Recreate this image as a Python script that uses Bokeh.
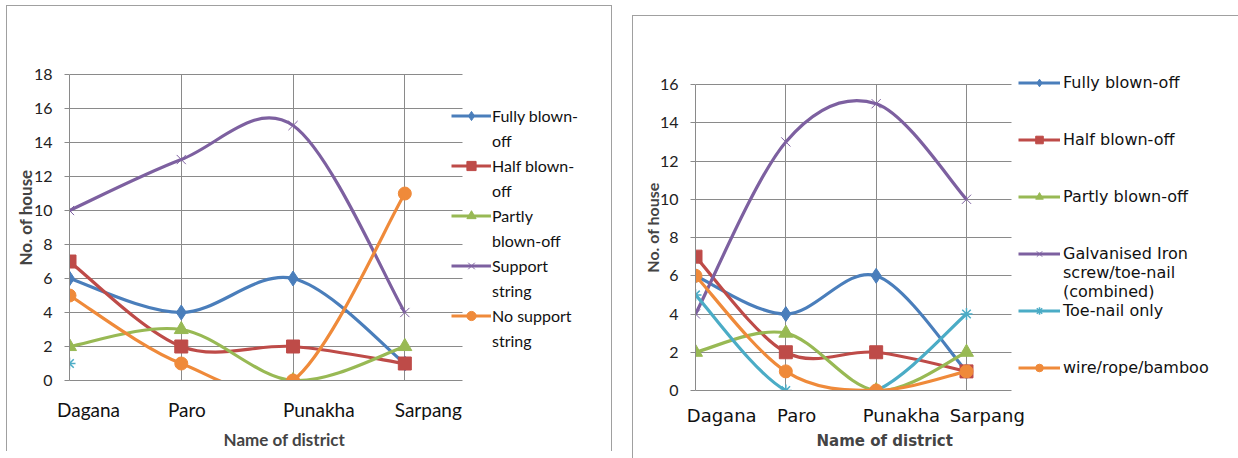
from bokeh.plotting import figure
from bokeh.layouts import row
from bokeh.models import (Legend, LegendItem, FixedTicker, SingleIntervalTicker,
                          Title, Range1d)
from bokeh.embed import file_html
from bokeh.resources import INLINE

# ---------------- data ----------------
districts = ["Dagana", "Paro", "Punakha", "Sarpang"]

left_fully = [6, 4, 6, 1]
left_half = [7, 2, 2, 1]
left_partly = [2, 3, 0, 2]
left_support = [10, 13, 15, 4]
left_nosupport = [5, 1, 0, 11]
left_toenail = [1, None, None, None]
left_names = ["Fully blown-\noff", "Half blown-\noff", "Partly\nblown-off",
              "Support\nstring", "No support\nstring"]

right_fully = [6, 4, 6, 1]
right_half = [7, 2, 2, 1]
right_partly = [2, 3, 0, 2]
right_galv = [4, 13, 15, 10]
right_toenail = [5, 0, 0, 4]
right_wire = [6, 1, 0, 1]
right_names = ["Fully blown-off", "Half blown-off", "Partly blown-off",
               "Galvanised Iron\nscrew/toe-nail\n(combined)", "Toe-nail only",
               "wire/rope/bamboo"]

x_title = "Name of district"
y_title = "No. of house"

# ---------------- styling ----------------
BLUE, RED, GREEN = "#4a7ebb", "#be4b48", "#98b954"
PURPLE, CYAN, ORANGE = "#7d60a0", "#4bacc6", "#ef8a3a"
GRID = "#8a8a8a"
STYLES = [  # colour, marker, size, marker line width
    (BLUE, "diamond", 15, 1),
    (RED, "square", 13, 1),
    (GREEN, "triangle", 14, 1),
    (PURPLE, "x", 13, 1),
    (CYAN, "asterisk", 12, 1.5),
    (ORANGE, "circle", 13, 1),
]

BORDER_LEFT, BORDER_TOP, BORDER_BOTTOM, EXTRA_TOP, GRID_H = 62, 48, 70, 20, 305


def smooth_segments(ys):
    """Bezier control points (Excel-like smoothing) from the data points."""
    pts = [(float(i), float(y)) for i, y in enumerate(ys) if y is not None]
    seg = dict(x0=[], y0=[], x1=[], y1=[], cx0=[], cy0=[], cx1=[], cy1=[])
    n = len(pts)
    for i in range(n - 1):
        p0 = pts[max(i - 1, 0)]
        p1 = pts[i]
        p2 = pts[i + 1]
        p3 = pts[min(i + 2, n - 1)]
        seg["x0"].append(p1[0]); seg["y0"].append(p1[1])
        seg["x1"].append(p2[0]); seg["y1"].append(p2[1])
        seg["cx0"].append(p1[0] + (p2[0] - p0[0]) / 6)
        seg["cy0"].append(p1[1] + (p2[1] - p0[1]) / 6)
        seg["cx1"].append(p2[0] - (p3[0] - p1[0]) / 6)
        seg["cy1"].append(p2[1] - (p3[1] - p1[1]) / 6)
    return seg


def make_chart(series, names, styles, ymax, cfg):
    grid_end = cfg["grid_end"]
    x_end = grid_end * cfg["frame_w"] / cfg["grid_px"]
    frame_h = GRID_H + EXTRA_TOP
    y_end = ymax * frame_h / GRID_H
    p = figure(frame_width=cfg["frame_w"], frame_height=frame_h,
               x_range=Range1d(0, x_end), y_range=Range1d(0, y_end),
               output_backend="svg", toolbar_location=None,
               min_border_left=BORDER_LEFT, min_border_right=0,
               min_border_top=BORDER_TOP, min_border_bottom=BORDER_BOTTOM,
               outline_line_color=None, background_fill_color="white",
               border_fill_color="white",
               styles={"border-top": "1px solid #a0a0a0",
                       "border-left": "1px solid #a0a0a0",
                       "border-right": "1px solid #a0a0a0"})
    cats = list(range(len(districts)))
    # grids (limited to the plotting area, legend sits to the right)
    p.xgrid.ticker = FixedTicker(ticks=cats)
    p.ygrid.ticker = SingleIntervalTicker(interval=2)
    p.ygrid.bounds = (0, ymax)
    for g in (p.xgrid, p.ygrid):
        g.grid_line_color = GRID
        g.grid_line_width = 1
    p.ygrid.cross_bounds = (0, grid_end)
    p.xgrid.cross_bounds = (0, ymax)
    # y axis
    ya = p.yaxis[0]
    ya.bounds = (0, ymax)
    ya.ticker = SingleIntervalTicker(interval=2)
    ya.minor_tick_line_color = None
    ya.major_tick_out = 5
    ya.major_tick_in = 0
    ya.major_tick_line_color = GRID
    ya.axis_line_color = GRID
    ya.major_label_text_font = "Lato"
    ya.major_label_text_font_size = "16px"
    ya.major_label_text_color = "#222222"
    ya.major_label_standoff = 12
    ya.axis_label = y_title
    ya.axis_label_text_font = "Lato"
    ya.axis_label_text_font_style = "bold"
    ya.axis_label_text_font_size = cfg["ytitle_size"]
    ya.axis_label_standoff = -5
    # x axis
    xa = p.xaxis[0]
    xa.bounds = (0, grid_end)
    pos = [c + o for c, o in zip(cats, cfg["label_shift"])]
    xa.ticker = FixedTicker(ticks=pos)
    xa.major_label_overrides = {t: d for t, d in zip(pos, districts)}
    xa.major_tick_line_color = None
    xa.minor_tick_line_color = None
    xa.axis_line_color = GRID
    xa.major_label_text_font = cfg["cat_font"]
    xa.major_label_text_font_size = cfg["cat_size"]
    xa.major_label_text_color = "#111111"
    xa.major_label_standoff = cfg["cat_standoff"]
    p.add_layout(Title(text=x_title, align="left", offset=cfg["xt_offset"],
                       text_font=cfg["xt_font"], text_font_size=cfg["xt_size"],
                       text_font_style="bold", standoff=cfg["xt_standoff"]),
                 "below")

    ghost = p.scatter(x=[], y=[], size=0, fill_alpha=0, line_alpha=0)
    items = []
    shown = [n for n in names if n is not None]
    for ys, name, (col, mk, sz, lw) in zip(series, names, styles):
        seg = smooth_segments(ys)
        rl = None
        if seg["x0"]:
            rl = p.bezier(x0="x0", y0="y0", x1="x1", y1="y1", cx0="cx0",
                          cy0="cy0", cx1="cx1", cy1="cy1", source=seg,
                          line_color=col, line_width=3.2)
        xs = [c for c, y in zip(cats, ys) if y is not None]
        yv = [y for y in ys if y is not None]
        rm = p.scatter(xs, yv, marker=mk, size=sz, fill_color=col,
                       line_color=col, line_width=lw)
        if name is None:
            continue
        lines = name.split("\n")
        items.append(LegendItem(label=lines[0],
                                renderers=[r for r in (rl, rm) if r is not None]))
        for extra in lines[1:]:
            items.append(LegendItem(label=extra, renderers=[ghost]))
        if name != shown[-1]:
            for _ in range(cfg["slots"] - len(lines)):
                items.append(LegendItem(label=" ", renderers=[ghost]))

    leg = Legend(items=items, location=cfg["leg_loc"], orientation="vertical",
                 label_text_font=cfg["leg_font"], label_text_font_size=cfg["leg_size"],
                 label_height=cfg["leg_h"], glyph_width=cfg["glyph_w"],
                 glyph_height=cfg["leg_h"], label_standoff=cfg["leg_standoff"],
                 spacing=cfg["leg_spacing"], padding=0, margin=0,
                 border_line_color=None, background_fill_alpha=0,
                 label_text_color="#111111")
    p.add_layout(leg, "center")
    return p


left_cfg = dict(frame_w=542, grid_px=392, grid_end=3.52,
                ytitle_size="17px", label_shift=[0.17, 0.05, 0.23, 0.21],
                cat_font="Lato", cat_size="19px", cat_standoff=11,
                xt_offset=154, xt_font="Lato", xt_size="17px", xt_standoff=6,
                leg_loc=(382, 28), leg_font="Lato", leg_size="16px", slots=2,
                leg_h=23, glyph_w=40, leg_standoff=1, leg_spacing=2)
right_cfg = dict(frame_w=544, grid_px=315, grid_end=3.5,
                 ytitle_size="16px", label_shift=[0.29, 0.12, 0.28, 0.23],
                 cat_font="DejaVu Sans", cat_size="18px", cat_standoff=8,
                 xt_offset=121, xt_font="DejaVu Sans", xt_size="15px", xt_standoff=2,
                 leg_loc=(323, 13), leg_font="DejaVu Sans", leg_size="16px", slots=3,
                 leg_h=19, glyph_w=42, leg_standoff=3, leg_spacing=0)

p1 = make_chart([left_fully, left_half, left_partly, left_support, left_toenail, left_nosupport],
                [left_names[0], left_names[1], left_names[2], left_names[3], None, left_names[4]],
                STYLES, 18, left_cfg)
p2 = make_chart([right_fully, right_half, right_partly, right_galv, right_toenail, right_wire],
                right_names, STYLES, 16, right_cfg)
p1.margin = (5, 0, 0, 6)
p2.margin = (15, 0, 0, 20)

layout = row(p1, p2)
open("out.html", "w").write(file_html(layout, INLINE))
